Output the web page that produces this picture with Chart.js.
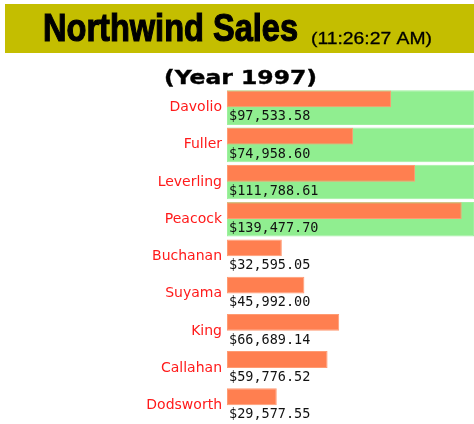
<!DOCTYPE html>
<html>
<head>
<meta charset="utf-8">
<script src="https://cdn.jsdelivr.net/npm/chart.js@4/dist/chart.umd.min.js"></script>
<style>
    html, body { margin: 0; padding: 0; background: #fff; }
</style>
</head>
<body>
<canvas id="chart" width="474" height="424"></canvas>
<script>
// Datos de ventas por empleado (año 1997)
const empleados = ['Davolio', 'Fuller', 'Leverling', 'Peacock', 'Buchanan', 'Suyama', 'King', 'Callahan', 'Dodsworth'];
const ventas = [97533.58, 74958.60, 111788.61, 139477.70, 32595.05, 45992.00, 66689.14, 59776.52, 29577.55];
// Empleados resaltados con fondo verde
const destacados = [true, true, true, true, false, false, false, false, false];
const titulo = 'Northwind Sales';
const hora = '(11:26:27 AM)';
const subtitulo = '(Year 1997)';
const maxEje = 146800;

// Formato de moneda para las etiquetas
function formatoMoneda(valor) {
    return '$' + valor.toLocaleString('en-US', { minimumFractionDigits: 2, maximumFractionDigits: 2 });
}

// Dibuja un texto ajustado a un ancho dado (con trazo opcional para engrosar)
function textoAjustado(ctx, texto, x, y, ancho, trazo) {
    const medida = ctx.measureText(texto).width;
    ctx.save();
    ctx.translate(x, y);
    ctx.scale(ancho / medida, 1);
    ctx.fillText(texto, 0, 0);
    if (trazo) {
        ctx.lineWidth = trazo;
        ctx.strokeStyle = ctx.fillStyle;
        ctx.strokeText(texto, 0, 0);
    }
    ctx.restore();
}

// Cabecera: banda con el título, la hora y el subtítulo
const cabecera = {
    id: 'cabecera',
    beforeDraw(chart) {
        const ctx = chart.ctx;
        ctx.save();
        ctx.fillStyle = '#c4be00';
        ctx.fillRect(5, 4, 469, 49);
        ctx.fillStyle = '#000';
        ctx.textBaseline = 'alphabetic';
        ctx.textAlign = 'left';
        ctx.font = 'bold 39px "Liberation Sans", Arial, sans-serif';
        textoAjustado(ctx, titulo, 43, 41, 255, 1.2);
        ctx.font = '17px "Liberation Sans", Arial, sans-serif';
        textoAjustado(ctx, hora, 311, 43.5, 121, 0.3);
        ctx.font = 'bold 20px "DejaVu Sans", Verdana, sans-serif';
        textoAjustado(ctx, subtitulo, 164, 84, 153, 0.4);
        ctx.restore();
    }
};

// Etiquetas con el monto debajo de cada barra
const etiquetas = {
    id: 'etiquetas',
    afterDatasetsDraw(chart) {
        const ctx = chart.ctx;
        const meta = chart.getDatasetMeta(0);
        ctx.save();
        ctx.font = '13.5px "DejaVu Sans Mono", monospace';
        ctx.fillStyle = '#111';
        ctx.textAlign = 'left';
        ctx.textBaseline = 'alphabetic';
        meta.data.forEach((barra, i) => {
            ctx.fillText(formatoMoneda(ventas[i]), chart.chartArea.left + 2, barra.y + barra.height * 1.27);
        });
        ctx.restore();
    }
};

const ctx = document.getElementById('chart').getContext('2d');
window.myChart = new Chart(ctx, {
    type: 'bar',
    data: {
        labels: empleados,
        datasets: [
            {
                label: 'Ventas',
                data: ventas,
                backgroundColor: '#ff7f50',
                borderColor: '#ff9b73',
                borderWidth: 1,
                borderSkipped: false,
                categoryPercentage: 0.93,
                barPercentage: 0.97
            },
            {
                // espacio reservado para la etiqueta del monto
                label: 'espacio',
                data: ventas.map(() => null),
                categoryPercentage: 0.93,
                barPercentage: 0.97
            },
            {
                label: 'Resaltado',
                data: destacados.map(d => d ? maxEje : null),
                backgroundColor: '#90ee90',
                borderColor: '#9ef09e',
                borderWidth: 1,
                borderSkipped: false,
                grouped: false,
                categoryPercentage: 0.93,
                barPercentage: 1
            }
        ]
    },
    options: {
        indexAxis: 'y',
        responsive: false,
        animation: false,
        layout: {
            padding: { top: 89, left: 0, right: 0, bottom: 0 }
        },
        plugins: {
            legend: { display: false },
            tooltip: { enabled: false },
            title: { display: false }
        },
        scales: {
            x: {
                display: false,
                min: 0,
                max: maxEje
            },
            y: {
                afterFit: function (scale) {
                    scale.width = 227;
                    // sin márgenes extra arriba/abajo del eje
                    scale.paddingTop = 0;
                    scale.paddingBottom = 0;
                },
                grid: { display: false, drawTicks: false },
                border: { display: false },
                ticks: {
                    color: '#ff1a1a',
                    padding: 5,
                    font: { family: '"DejaVu Sans", Verdana, sans-serif', size: 14 }
                }
            }
        }
    },
    plugins: [cabecera, etiquetas]
});
</script>
</body>
</html>
